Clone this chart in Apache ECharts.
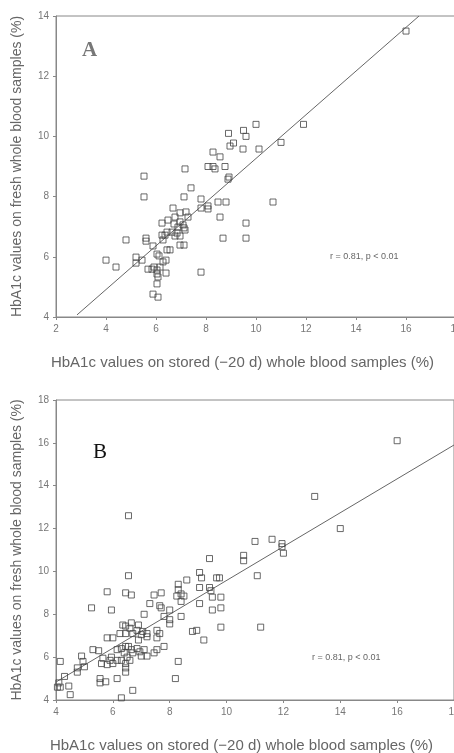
<!DOCTYPE html>
<html>
<head>
<meta charset="utf-8">
<script src="https://cdn.jsdelivr.net/npm/echarts@6/dist/echarts.min.js"></script>
<style>html,body{margin:0;padding:0;background:#fff}#c{width:454px;height:753px}</style>
</head>
<body>
<div id="c"></div>
<script>
// Panel A: stored (x) vs fresh (y)
const pointsA = [
[16,13.5],[11.9,10.4],[11,9.8],[10,10.4],[8.9,10.1],[9.5,10.2],[9.6,10.0],[9.1,9.78],[8.96,9.68],[9.48,9.58],[10.12,9.58],[8.28,9.48],[8.56,9.32],
[8.08,9.0],[8.28,9.0],[8.36,8.92],[8.76,9.0],[8.92,8.65],[8.88,8.58],[7.16,8.92],[5.52,8.68],[5.52,7.99],[7.12,7.99],[7.4,8.29],[7.8,7.92],[7.8,7.62],[8.08,7.69],[8.08,7.59],[8.48,7.82],[8.8,7.82],[10.68,7.82],[8.56,7.32],[9.6,7.12],[8.68,6.62],[9.6,6.62],
[6.68,7.62],[7.2,7.49],[6.96,7.46],[7.28,7.32],[6.48,7.22],[6.24,7.12],[6.76,7.32],[6.96,7.16],[7.08,7.06],[6.88,6.99],[7.12,6.96],[7.16,6.89],[6.44,6.82],[6.64,6.82],[6.84,6.79],[6.36,6.72],[6.24,6.72],[6.76,6.69],[6.96,6.69],[6.28,6.56],[5.6,6.62],[5.6,6.52],[4.8,6.56],[6.96,6.39],[7.12,6.39],[5.88,6.36],[6.44,6.23],[6.56,6.23],[6.04,6.09],[6.12,6.03],[6.4,5.89],[4.0,5.89],[4.4,5.66],[5.2,5.99],[5.2,5.79],[5.44,5.89],[5.68,5.59],[5.84,5.59],[5.92,5.66],[6.04,5.56],[6.16,5.66],[6.4,5.46],[6.04,5.43],[6.08,5.33],[6.04,5.1],[5.88,4.76],[6.08,4.66],[7.8,5.49],[6.28,5.83],[6.72,7.09]
];
const fitA = [[2.84,4.07],[16.52,14]];
// Panel B
const pointsB = [
[16,16.1],[13.1,13.5],[6.55,12.6],[14,12.0],[11.0,11.4],[11.6,11.5],[11.95,11.3],[11.95,11.15],[12,10.85],[9.4,10.6],[10.6,10.75],[10.6,10.5],
[11.08,9.8],[11.2,7.4],[9.8,7.4],[9.8,8.8],[9.8,8.3],[9.5,8.2],[9.5,8.8],[9.65,9.7],[9.75,9.7],[9.45,9.1],[9.4,9.25],[9.05,9.95],[9.12,9.7],[9.05,9.25],[9.05,8.5],[8.6,9.6],[8.3,9.4],[8.3,9.15],[8.4,8.95],[8.25,8.85],[8.5,8.85],[8.4,8.6],[8.4,7.9],[8.0,8.2],[8.0,7.75],[8.0,7.55],[7.8,7.9],[7.7,9.0],[7.45,8.9],[7.65,8.4],[7.7,8.3],[7.3,8.5],[7.1,8.0],[8.8,7.2],[8.95,7.25],[9.2,6.8],[8.3,5.8],[8.2,5.0],
[7.55,7.25],[7.65,7.1],[7.55,6.9],[7.8,6.5],[7.55,6.35],[7.45,6.2],[7.2,7.1],[7.2,6.95],[7.0,7.05],[7.05,7.2],[6.9,7.5],[6.85,7.25],[6.9,6.8],[6.7,7.1],[6.6,7.35],[6.65,7.6],[6.45,7.45],[6.35,7.5],[6.45,7.1],[6.25,7.1],[6.0,6.9],[5.8,6.9],[6.85,6.4],[6.95,6.25],[7.1,6.35],[7.2,6.05],[7.0,6.05],[6.7,6.2],[6.65,6.35],[6.55,6.5],[6.45,6.5],[6.3,6.4],[6.4,6.2],[6.5,6.0],[6.3,5.85],[6.6,5.85],[6.45,5.7],[6.45,5.5],[6.45,5.3],[6.15,5.85],[6.0,5.7],[5.9,5.85],[5.8,5.65],[5.6,5.7],[5.65,5.95],[5.95,6.0],[6.15,6.35],[5.3,6.35],[5.5,6.3],[5.25,8.3],[5.8,9.05],[5.95,8.2],[6.45,9.0],[6.65,8.9],[6.55,9.8],[6.15,5.0],[5.55,5.0],[5.55,4.8],[5.75,4.85],[6.3,4.1],[6.7,4.45],[4.9,6.05],[4.95,5.8],[5.0,5.55],[4.75,5.5],[4.75,5.3],[4.3,5.1],[4.15,5.8],[4.1,4.8],[4.15,4.6],[4.45,4.65],[4.5,4.25],[4.05,4.6]
];
const fitB = [[4,4.84],[18,15.9]];
const xRangeA = [2,18], yRangeA = [4,14];
const xRangeB = [4,18], yRangeB = [4,18];
const xTitle = 'HbA1c values on stored (\u221220 d) whole blood samples (%)';
const yTitle = 'HbA1c values on fresh whole blood samples (%)';
const statText = 'r = 0.81, p < 0.01';

const FONT = "'Liberation Sans', Arial, sans-serif";
const axisCol = '#888';
function xAx(idx, r) {
  return {
    gridIndex: idx, type: 'value', min: r[0], max: r[1], interval: 2,
    name: xTitle, nameLocation: 'middle', nameGap: 38,
    nameTextStyle: {fontFamily: FONT, fontSize: 15, color: '#666', padding: [0, 27, 0, 0]},
    axisLine: {show: true, lineStyle: {color: axisCol, width: 1}},
    axisTick: {show: true, length: 3, lineStyle: {color: axisCol}},
    axisLabel: {fontFamily: FONT, fontSize: 10, color: '#777', margin: 7, hideOverlap: false},
    splitLine: {show: false}
  };
}
function yAx(idx, r) {
  return {
    gridIndex: idx, type: 'value', min: r[0], max: r[1], interval: 2,
    name: yTitle, nameLocation: 'middle', nameGap: 32,
    nameTextStyle: {fontFamily: FONT, fontSize: 14, color: '#666'},
    axisLine: {show: true, lineStyle: {color: axisCol, width: 1}},
    axisTick: {show: true, length: 3, lineStyle: {color: axisCol}},
    axisLabel: {fontFamily: FONT, fontSize: 10, color: '#777', margin: 7},
    splitLine: {show: false}
  };
}
const sq = {color: 'rgba(0,0,0,0)', borderColor: '#444', borderWidth: 1};
const chart = echarts.init(document.getElementById('c'), null, {renderer: 'canvas'});
chart.setOption({
  backgroundColor: '#fff',
  animation: false,
  grid: [
    {left: 56, top: 16, width: 400, height: 301, outerBoundsMode: 'none', containLabel: false, show: true, borderColor: axisCol, borderWidth: 1, backgroundColor: 'transparent'},
    {left: 56, top: 400, width: 398, height: 300, outerBoundsMode: 'none', containLabel: false, show: true, borderColor: axisCol, borderWidth: 1, backgroundColor: 'transparent'}
  ],
  xAxis: [xAx(0, xRangeA), xAx(1, xRangeB)],
  yAxis: [yAx(0, yRangeA), yAx(1, yRangeB)],
  series: [
    {type: 'line', xAxisIndex: 0, yAxisIndex: 0, data: fitA, showSymbol: false, lineStyle: {color: '#666', width: 1}, z: 1},
    {type: 'scatter', xAxisIndex: 0, yAxisIndex: 0, data: pointsA, symbol: 'rect', symbolSize: 6, itemStyle: sq, z: 2},
    {type: 'line', xAxisIndex: 1, yAxisIndex: 1, data: fitB, showSymbol: false, lineStyle: {color: '#666', width: 1}, z: 1},
    {type: 'scatter', xAxisIndex: 1, yAxisIndex: 1, data: pointsB, symbol: 'rect', symbolSize: 6, itemStyle: sq, z: 2}
  ],
  graphic: [
    {type: 'text', left: 82, top: 40, style: {text: 'A', font: "bold 21px 'Liberation Serif', serif", fill: '#777'}},
    {type: 'text', left: 93, top: 442, style: {text: 'B', font: "21px 'Liberation Serif', serif", fill: '#111'}},
    {type: 'text', left: 330, top: 252, style: {text: statText, font: "9px " + FONT, fill: '#666'}},
    {type: 'text', left: 312, top: 653, style: {text: statText, font: "9px " + FONT, fill: '#666'}}
  ]
});
</script>
</body>
</html>
